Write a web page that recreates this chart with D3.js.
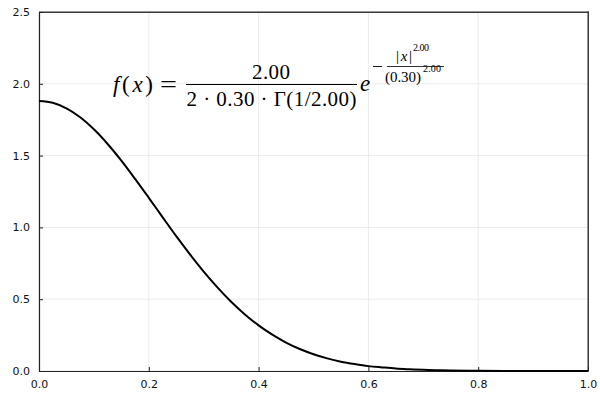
<!DOCTYPE html>
<html>
<head>
<meta charset="utf-8">
<script src="https://cdn.jsdelivr.net/npm/d3@7"></script>
<style>
  html, body { margin: 0; padding: 0; background: #fff; }
  svg { display: block; }
</style>
</head>
<body>
<svg id="chart" width="600" height="400"></svg>
<script>
// ---- data ----
const xValues = [0.000, 0.025, 0.050, 0.075, 0.100, 0.125, 0.150, 0.175, 0.200, 0.225,
                 0.250, 0.275, 0.300, 0.325, 0.350, 0.375, 0.400, 0.425, 0.450, 0.475,
                 0.500, 0.525, 0.550, 0.575, 0.600, 0.625, 0.650, 0.675, 0.700, 0.725,
                 0.750, 0.800, 0.850, 0.900, 0.950, 1.000];
const yValues = [1.881, 1.868, 1.829, 1.767, 1.683, 1.581, 1.465, 1.338, 1.206, 1.072,
                 0.939, 0.812, 0.692, 0.582, 0.482, 0.394, 0.318, 0.253, 0.198, 0.153,
                 0.117, 0.088, 0.065, 0.048, 0.034, 0.025, 0.017, 0.012, 0.008, 0.0055,
                 0.0036, 0.0015, 0.0006, 0.0002, 0.0001, 0.0000];
const xTicks = [0.0, 0.2, 0.4, 0.6, 0.8, 1.0];
const yTicks = [0.0, 0.5, 1.0, 1.5, 2.0, 2.5];
const xTickLabels = ["0.0", "0.2", "0.4", "0.6", "0.8", "1.0"];
const yTickLabels = ["0.0", "0.5", "1.0", "1.5", "2.0", "2.5"];

const svg = d3.select("#chart");
const plot = { left: 39, right: 588, top: 12, bottom: 371 };

const x = d3.scaleLinear().domain([0, 1]).range([plot.left, plot.right]);
const y = d3.scaleLinear().domain([0, 2.5]).range([plot.bottom, plot.top]);

// grid
const grid = svg.append("g").attr("stroke", "#e6e6e6").attr("stroke-width", 0.8);
grid.selectAll("line.gx").data(xTicks).join("line").attr("class", "gx")
  .attr("x1", d => x(d)).attr("x2", d => x(d))
  .attr("y1", plot.top).attr("y2", plot.bottom);
grid.selectAll("line.gy").data(yTicks).join("line").attr("class", "gy")
  .attr("x1", plot.left).attr("x2", plot.right)
  .attr("y1", d => y(d)).attr("y2", d => y(d));

// top and right frame, drawn as thin filled bands at the scale extremes
const xr = x.range(), yr = y.range();
svg.append("rect").attr("class", "frame-top")
  .attr("x", xr[0]).attr("y", yr[1] - 0.5)
  .attr("width", xr[1] - xr[0] + 1).attr("height", 1.5)
  .attr("fill", "#3a3a3a");
svg.append("rect").attr("class", "frame-right")
  .attr("x", xr[1] - 0.5).attr("y", yr[1] - 0.5)
  .attr("width", 1.5).attr("height", yr[0] - yr[1] + 1)
  .attr("fill", "#3a3a3a");

// axes
const xAxis = d3.axisBottom(x).tickValues(xTicks)
  .tickFormat((d, i) => xTickLabels[i]).tickSizeInner(-4).tickSizeOuter(0).tickPadding(9);
const yAxis = d3.axisLeft(y).tickValues(yTicks)
  .tickFormat((d, i) => yTickLabels[i]).tickSizeInner(-4).tickSizeOuter(0).tickPadding(9);

const gx = svg.append("g").attr("transform", `translate(0,${plot.bottom})`).call(xAxis);
const gy = svg.append("g").attr("transform", `translate(${plot.left},0)`).call(yAxis);
[gx, gy].forEach(g => {
  g.select(".domain").attr("stroke", "#222").attr("stroke-width", 1.2);
  g.selectAll(".tick line").attr("stroke", "#222").attr("stroke-width", 1);
  g.selectAll(".tick text").attr("fill", "#111")
    .style("font-family", "'DejaVu Sans', sans-serif").style("font-size", "11px");
});

// curve
const pts = xValues.map((v, i) => [v, yValues[i]]);
svg.append("path")
  .datum(pts)
  .attr("fill", "none").attr("stroke", "#000").attr("stroke-width", 2)
  .attr("stroke-linejoin", "round")
  .attr("d", d3.line().x(d => x(d[0])).y(d => y(d[1])).curve(d3.curveCatmullRom.alpha(0.5)));

// formula annotation
const F = "'Liberation Serif', 'DejaVu Serif', serif";
const ann = svg.append("g").attr("fill", "#000").style("font-family", F);
function t(str, px, py, size, opts = {}) {
  const el = ann.append("text").attr("x", px).attr("y", py)
    .style("font-size", size + "px")
    .attr("text-anchor", opts.anchor || "start");
  if (opts.italic) el.style("font-style", "italic");
  el.text(str);
  return el;
}
// f(x) =
const fx = ann.append("text").attr("x", 113).attr("y", 92).style("font-size", "23px")
  .attr("textLength", 40).attr("lengthAdjust", "spacing");
fx.append("tspan").style("font-style", "italic").text("f");
fx.append("tspan").text("(");
fx.append("tspan").style("font-style", "italic").text("x");
fx.append("tspan").text(")");
t("=", 160, 92, 23).attr("textLength", 17).attr("lengthAdjust", "spacingAndGlyphs");
// main fraction
t("2.00", 271, 79, 21, { anchor: "middle" }).attr("textLength", 38);
ann.append("line").attr("x1", 186).attr("x2", 357).attr("y1", 84.5).attr("y2", 84.5)
  .attr("stroke", "#000").attr("stroke-width", 1);
t("2 · 0.30 · Γ(1/2.00)", 271.5, 106, 21, { anchor: "middle" }).attr("textLength", 170);
// e
t("e", 360, 91, 23, { italic: true });
// exponent
ann.append("line").attr("x1", 373).attr("x2", 382).attr("y1", 66.5).attr("y2", 66.5)
  .attr("stroke", "#000").attr("stroke-width", 0.9);
const num = ann.append("text").attr("x", 396).attr("y", 61).style("font-size", "15px")
  .attr("textLength", 16).attr("lengthAdjust", "spacing");
num.append("tspan").text("|");
num.append("tspan").style("font-style", "italic").text("x");
num.append("tspan").text("|");
t("2.00", 413, 51, 10).attr("textLength", 16);
ann.append("line").attr("x1", 387).attr("x2", 444).attr("y1", 66.5).attr("y2", 66.5)
  .attr("stroke", "#000").attr("stroke-width", 0.8);
t("(0.30)", 385, 82, 15).attr("textLength", 36);
t("2.00", 423, 72, 10).attr("textLength", 18);
</script>
</body>
</html>
